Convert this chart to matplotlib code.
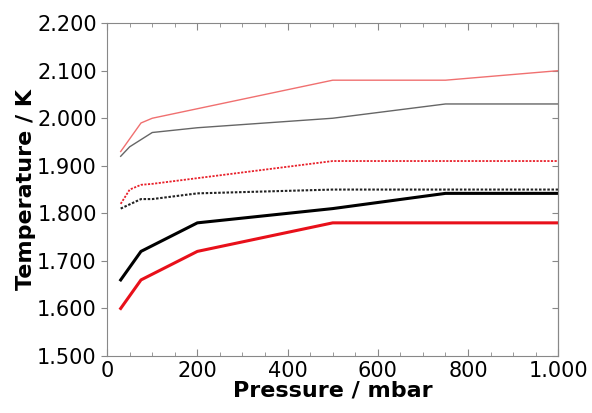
import matplotlib.pyplot as plt
from matplotlib.ticker import FuncFormatter, MultipleLocator

# values
p_light_red = [30, 75, 100, 500, 750, 1000]
t_light_red = [1.930, 1.990, 2.000, 2.080, 2.080, 2.100]

p_gray = [30, 50, 100, 200, 500, 750, 1000]
t_gray = [1.920, 1.940, 1.970, 1.980, 2.000, 2.030, 2.030]

p_red_dot = [30, 50, 75, 100, 500, 750, 1000]
t_red_dot = [1.820, 1.850, 1.860, 1.862, 1.910, 1.910, 1.910]

p_black_dot = [30, 75, 100, 200, 500, 750, 1000]
t_black_dot = [1.810, 1.830, 1.830, 1.842, 1.850, 1.850, 1.850]

p_black = [30, 75, 200, 500, 750, 1000]
t_black = [1.660, 1.720, 1.780, 1.810, 1.842, 1.842]

p_red = [30, 75, 200, 500, 750, 1000]
t_red = [1.600, 1.660, 1.720, 1.780, 1.780, 1.780]

fig = plt.figure(figsize=(5.92, 4.13), dpi=100)
ax = fig.add_axes([0.181, 0.138, 0.762, 0.806])

ax.plot(p_light_red, t_light_red, color='#f07070', lw=1.0)
ax.plot(p_gray, t_gray, color='#666666', lw=1.0)
ax.plot(p_red_dot, t_red_dot, color='#e8202a', lw=1.3, ls=(0, (1.2, 0.8)))
ax.plot(p_black_dot, t_black_dot, color='#222222', lw=1.5, ls=(0, (1.2, 0.8)))
ax.plot(p_black, t_black, color='black', lw=2.2)
ax.plot(p_red, t_red, color='#e8101a', lw=2.2)

ax.set_xlim(0, 1000)
ax.set_ylim(1.5, 2.2)
ax.xaxis.set_major_locator(MultipleLocator(200))
ax.xaxis.set_minor_locator(MultipleLocator(50))
ax.yaxis.set_major_locator(MultipleLocator(0.1))

# German style number formatting
ax.xaxis.set_major_formatter(FuncFormatter(lambda v, _: f'{v:,.0f}'.replace(',', '.')))
ax.yaxis.set_major_formatter(FuncFormatter(lambda v, _: f'{v:.3f}'))

for s in ax.spines.values():
    s.set_color('#888888')
ax.tick_params(axis='both', which='both', color='#888888', labelsize=15)
ax.tick_params(axis='y', direction='out', length=4)
ax.tick_params(axis='x', which='major', direction='in', length=5, top=True)
ax.tick_params(axis='x', which='minor', direction='in', length=3, top=True)

# right side ticks point inward
right = ax.secondary_yaxis('right')
right.yaxis.set_major_locator(MultipleLocator(0.1))
right.tick_params(direction='in', length=4, color='#888888', labelright=False)
right.spines['right'].set_color('#888888')

ax.set_xlabel('Pressure / mbar', fontsize=16, fontweight='bold', labelpad=0)
ax.set_ylabel('Temperature / K', fontsize=16, fontweight='bold', labelpad=1)

fig.savefig('out.png', dpi=100)
